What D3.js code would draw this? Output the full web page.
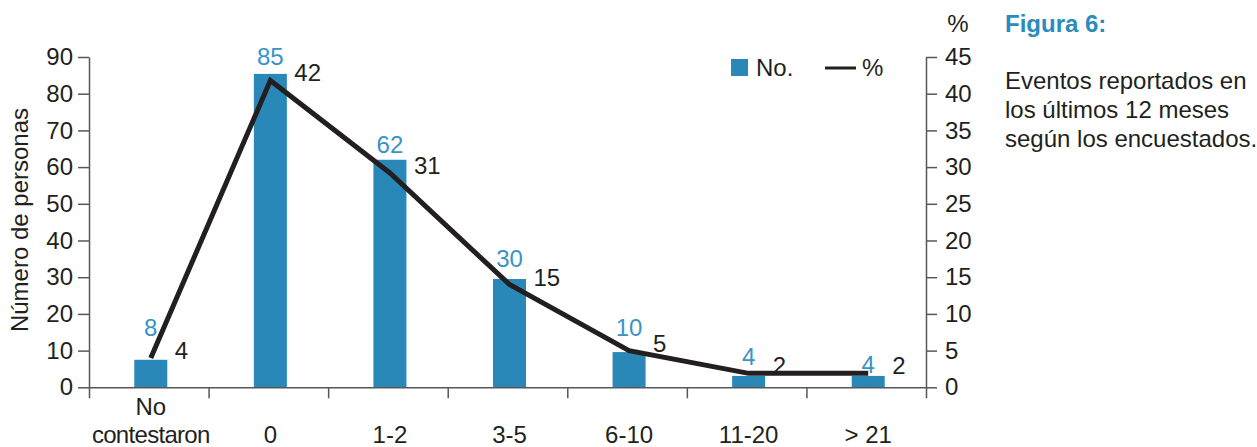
<!DOCTYPE html>
<html>
<head>
<meta charset="utf-8">
<script src="https://cdn.jsdelivr.net/npm/d3@7/dist/d3.min.js"></script>
<style>
  html, body { margin: 0; padding: 0; background: #ffffff; }
  svg { display: block; }
  text { font-family: "Liberation Sans", Arial, Helvetica, sans-serif; }
</style>
</head>
<body>
<svg id="chart" width="1257" height="447"></svg>
<script>
// ---- data ----
const categories = ["No contestaron", "0", "1-2", "3-5", "6-10", "11-20", "> 21"];
const categoryLabelLines = [["No", "contestaron"], ["0"], ["1-2"], ["3-5"], ["6-10"], ["11-20"], ["> 21"]];
const counts = [7.5, 85.4, 62, 29.5, 9.6, 3.1, 3.1];          // bar heights (No.)
const countLabels = ["8", "85", "62", "30", "10", "4", "4"];
const percents = [4, 41.8, 29.2, 14, 5, 1.9, 1.9];             // line (%)
const percentLabels = ["4", "42", "31", "15", "5", "2", "2"];
const leftTicks = [0, 10, 20, 30, 40, 50, 60, 70, 80, 90];
const rightTicks = [0, 5, 10, 15, 20, 25, 30, 35, 40, 45];
const yLeftTitle = "Número de personas";
const yRightTitle = "%";
const legendLabels = ["No.", "%"];
const figTitle = "Figura 6:";
const figText = ["Eventos reportados en", "los últimos 12 meses", "según los encuestados."];

(function () {
// ---- layout / style ----
const BLUE = "#2a88b9", BLUE_TXT = "#3a93c6", INK = "#231f20", AXIS = "#555759";
const FS = 24;
const pLeft = 89, pRight = 926, pTop = 57, pBottom = 387.3;
const shift = 2;
const blueLift = [24, 9, 7, 12, 16, 11, 3];   // label offsets above bar tops (layout)

const svg = d3.select("#chart");

const x = d3.scaleBand().domain(categories).range([pLeft, pRight])
  .paddingInner(0.724).paddingOuter(0.362);
const cx = c => x(c) + x.bandwidth() / 2 + shift;
const yL = d3.scaleLinear().domain([0, 90]).range([pBottom, pTop]);
const yR = d3.scaleLinear().domain([0, 45]).range([pBottom, pTop]);

// bars
svg.append("g").selectAll("rect").data(categories).join("rect")
  .attr("x", c => x(c) + shift)
  .attr("width", x.bandwidth())
  .attr("y", (c, i) => yL(counts[i]))
  .attr("height", (c, i) => yL(0) - yL(counts[i]))
  .attr("fill", BLUE);

// x axis (boundary ticks)
const xb = d3.scaleLinear().domain([0, categories.length]).range([pLeft, pRight]);
const gx = svg.append("g").attr("transform", `translate(0,${pBottom})`)
  .call(d3.axisBottom(xb).tickValues(d3.range(categories.length + 1)).tickFormat("").tickSize(11).tickSizeOuter(0));
gx.selectAll("path, line").attr("stroke", AXIS).attr("stroke-width", 1.5);

// left axis
const gl = svg.append("g").attr("transform", `translate(${pLeft},0)`)
  .call(d3.axisLeft(yL).tickValues(leftTicks).tickSize(11).tickSizeOuter(0).tickPadding(5));
// right axis
const gr = svg.append("g").attr("transform", `translate(${pRight},0)`)
  .call(d3.axisRight(yR).tickValues(rightTicks).tickSize(11).tickSizeOuter(0).tickPadding(8));
[gl, gr].forEach(g => {
  g.selectAll("path, line").attr("stroke", AXIS).attr("stroke-width", 1.5);
  g.selectAll("text").attr("font-size", FS).attr("fill", INK).attr("font-family", null);
});

// category labels
const catG = svg.append("g");
categories.forEach((c, i) => {
  const lines = categoryLabelLines[i];
  lines.forEach((t, j) => {
    catG.append("text")
      .attr("x", cx(c))
      .attr("y", 443 - (lines.length - 1 - j) * 28)
      .attr("text-anchor", "middle")
      .attr("font-size", FS).attr("fill", INK)
      .attr("letter-spacing", t.length > 6 ? -0.7 : 0)
      .text(t);
  });
});

// percent line
const line = d3.line().x((d, i) => cx(categories[i])).y(d => yR(d));
svg.append("path").datum(percents)
  .attr("d", line)
  .attr("fill", "none").attr("stroke", INK).attr("stroke-width", 5)
  .attr("stroke-linejoin", "miter").attr("stroke-linecap", "butt");

// bar labels
svg.append("g").selectAll("text").data(categories).join("text")
  .attr("x", c => cx(c))
  .attr("y", (c, i) => yL(counts[i]) - blueLift[i])
  .attr("text-anchor", "middle")
  .attr("font-size", FS).attr("fill", BLUE_TXT)
  .text((c, i) => countLabels[i]);

// percent labels
svg.append("g").selectAll("text").data(categories).join("text")
  .attr("x", c => cx(c) + 24)
  .attr("y", (c, i) => yR(percents[i]) + 1)
  .attr("font-size", FS).attr("fill", INK)
  .text((c, i) => percentLabels[i]);

// y titles
svg.append("text")
  .attr("transform", `translate(28,220) rotate(-90)`)
  .attr("text-anchor", "middle").attr("font-size", FS).attr("fill", INK)
  .text(yLeftTitle);
svg.append("text")
  .attr("x", 958).attr("y", 32).attr("text-anchor", "middle")
  .attr("font-size", FS).attr("fill", INK).text(yRightTitle);

// legend
const lg = svg.append("g");
lg.append("rect").attr("x", 731).attr("y", 59).attr("width", 17).attr("height", 17).attr("fill", BLUE);
lg.append("text").attr("x", 756).attr("y", 76).attr("font-size", FS).attr("fill", INK).text(legendLabels[0]);
lg.append("line").attr("x1", 825).attr("x2", 856).attr("y1", 68).attr("y2", 68)
  .attr("stroke", INK).attr("stroke-width", 3);
lg.append("text").attr("x", 862).attr("y", 76).attr("font-size", FS).attr("fill", INK).text(legendLabels[1]);

// side caption
svg.append("text").attr("x", 1005).attr("y", 32).attr("font-size", FS)
  .attr("font-weight", "bold").attr("fill", "#2b8bbd").text(figTitle);
figText.forEach((t, i) => {
  svg.append("text").attr("x", 1005).attr("y", 89 + i * 29)
    .attr("font-size", FS).attr("fill", INK).text(t);
});
})();
</script>
</body>
</html>
